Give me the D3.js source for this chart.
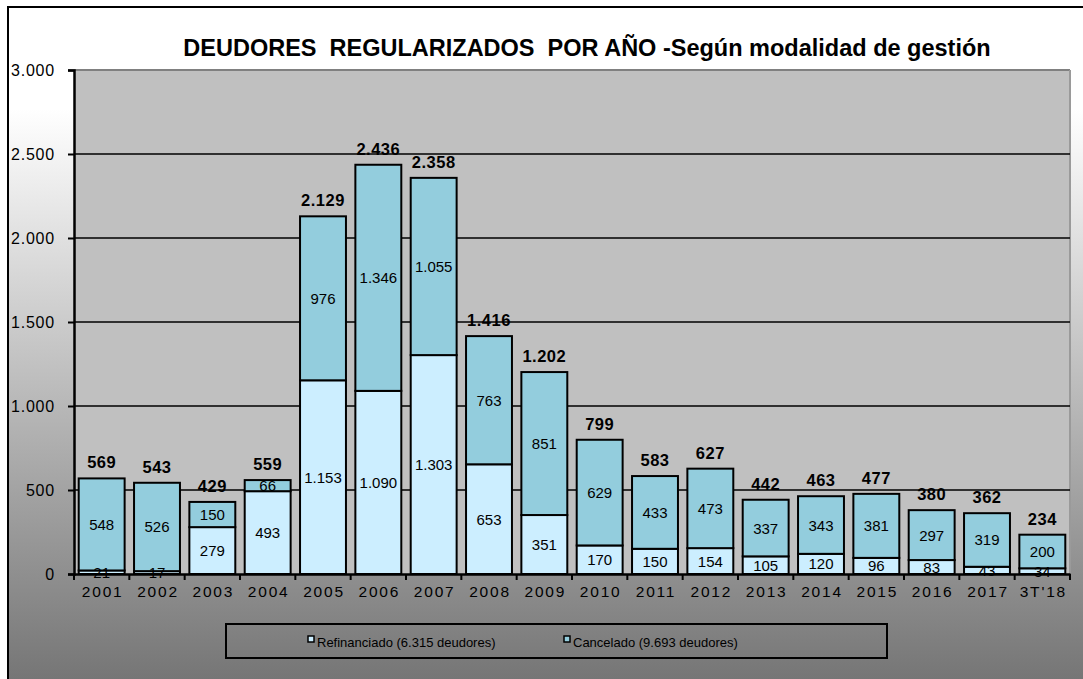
<!DOCTYPE html>
<html>
<head>
<meta charset="utf-8">
<script src="https://cdn.jsdelivr.net/npm/d3@7"></script>
<style>
  body { margin: 0; background: #fff; }
  text { font-family: "Liberation Sans", Arial, sans-serif; }
</style>
</head>
<body>
<svg id="chart" width="1083" height="679"></svg>
<script>
var years = ["2001", "2002", "2003", "2004", "2005", "2006", "2007", "2008", "2009", "2010", "2011", "2012", "2013", "2014", "2015", "2016", "2017", "3T'18"]
var refinanciado = [21, 17, 279, 493, 1153, 1090, 1303, 653, 351, 170, 150, 154, 105, 120, 96, 83, 43, 34]
var cancelado = [548, 526, 150, 66, 976, 1346, 1055, 763, 851, 629, 433, 473, 337, 343, 381, 297, 319, 200]
var yTicks = [0, 500, 1000, 1500, 2000, 2500, 3000]
var seriesNames = ["Refinanciado (6.315 deudores)", "Cancelado (9.693 deudores)"]
var colors = ["#CCEEFF", "#93CDDD"]

var dimensions = {
  width: 1083,
  height: 679,
  margin: { top: 70, bottom: 107, left: 74, right: 13 }
}

var locale = d3.formatLocale({ decimal: ",", thousands: ".", grouping: [3], currency: ["", "€"] })
var fmt = locale.format(",d")

var data = years.map((y, i) => ({ year: y, ref: refinanciado[i], can: cancelado[i], total: refinanciado[i] + cancelado[i] }))

var svg = d3.select("#chart")

// background gradient
var defs = svg.append("defs")
var grad = defs.append("linearGradient")
  .attr("id", "bg")
  .attr("x1", 0).attr("y1", 0).attr("x2", 0).attr("y2", 1)
grad.append("stop").attr("offset", "0%").attr("stop-color", "#ffffff")
grad.append("stop").attr("offset", "15%").attr("stop-color", "#ffffff")
grad.append("stop").attr("offset", "100%").attr("stop-color", "#747474")

svg.append("rect")
  .attr("x", 8).attr("y", 7)
  .attr("width", dimensions.width).attr("height", dimensions.height)
  .attr("fill", "url(#bg)")
  .attr("stroke", "#000")
  .attr("stroke-width", 2)

var xScale = d3.scaleBand()
  .domain(years)
  .range([dimensions.margin.left, dimensions.width - dimensions.margin.right])
  .paddingInner(0.17)
  .paddingOuter(0.085)

var yScale = d3.scaleLinear()
  .domain([0, 3000])
  .range([dimensions.height - dimensions.margin.bottom + 2, dimensions.margin.top])

var x0 = dimensions.margin.left
var x1 = dimensions.width - dimensions.margin.right

// plot area
svg.append("rect")
  .attr("x", x0).attr("y", yScale(3000))
  .attr("width", x1 - x0).attr("height", yScale(0) - yScale(3000))
  .attr("fill", "#C0C0C0")
svg.append("line")
  .attr("x1", x0).attr("x2", x1)
  .attr("y1", yScale(3000)).attr("y2", yScale(3000))
  .attr("stroke", "#808080").attr("stroke-width", 2)
svg.append("line")
  .attr("x1", x1).attr("x2", x1)
  .attr("y1", yScale(3000)).attr("y2", yScale(0))
  .attr("stroke", "#9a9a9a").attr("stroke-width", 2)

// gridlines
svg.append("g")
  .selectAll("line")
  .data(yTicks.filter(d => d > 0 && d < 3000))
  .enter().append("line")
  .attr("x1", x0).attr("x2", x1)
  .attr("y1", d => yScale(d)).attr("y2", d => yScale(d))
  .attr("stroke", "#000").attr("stroke-width", 1.5)

// bars
var bars = svg.append("g")
bars.selectAll("rect.ref")
  .data(data)
  .enter().append("rect")
  .attr("class", "ref")
  .attr("x", d => xScale(d.year))
  .attr("width", xScale.bandwidth())
  .attr("y", d => yScale(d.ref))
  .attr("height", d => yScale(0) - yScale(d.ref))
  .attr("fill", colors[0])
  .attr("stroke", "#000").attr("stroke-width", 2)
bars.selectAll("rect.can")
  .data(data)
  .enter().append("rect")
  .attr("class", "can")
  .attr("x", d => xScale(d.year))
  .attr("width", xScale.bandwidth())
  .attr("y", d => yScale(d.total))
  .attr("height", d => yScale(d.ref) - yScale(d.total))
  .attr("fill", colors[1])
  .attr("stroke", "#000").attr("stroke-width", 2)

// segment labels
var labels = svg.append("g")
  .style("font-size", "15px")
  .attr("text-anchor", "middle")
  .attr("fill", "#000")
labels.selectAll("text.ref")
  .data(data)
  .enter().append("text")
  .attr("x", d => xScale(d.year) + xScale.bandwidth() / 2)
  .attr("y", d => (yScale(0) + yScale(d.ref)) / 2 + 5.5)
  .text(d => fmt(d.ref))
labels.selectAll("text.can")
  .data(data)
  .enter().append("text")
  .attr("x", d => xScale(d.year) + xScale.bandwidth() / 2)
  .attr("y", d => (yScale(d.ref) + yScale(d.total)) / 2 + 5.5)
  .text(d => fmt(d.can))

// totals
svg.append("g")
  .selectAll("text")
  .data(data)
  .enter().append("text")
  .attr("x", d => xScale(d.year) + xScale.bandwidth() / 2)
  .attr("y", d => yScale(d.total) - 10)
  .attr("text-anchor", "middle")
  .style("font-size", "16.5px")
  .style("font-weight", "bold")
  .style("letter-spacing", "0.5px")
  .text(d => fmt(d.total))

// axes
var xAxisGen = d3.axisBottom(xScale).tickSize(0).tickPadding(12)
var xAxis = svg.append("g")
  .attr("transform", `translate(0,${yScale(0)})`)
  .call(xAxisGen)
xAxis.select(".domain").attr("stroke", "#000").attr("stroke-width", 2.5)
xAxis.selectAll("text")
  .style("font-size", "15.5px")
  .style("letter-spacing", "1.8px")
  .attr("dx", "1px")
  .attr("fill", "#000")
  .attr("font-family", null)

// category boundary ticks
svg.append("g")
  .selectAll("line")
  .data(years.concat(["end"]))
  .enter().append("line")
  .attr("x1", (d, i) => x0 + i * xScale.step())
  .attr("x2", (d, i) => x0 + i * xScale.step())
  .attr("y1", yScale(0)).attr("y2", yScale(0) + 6)
  .attr("stroke", "#000").attr("stroke-width", 2)

var yAxisGen = d3.axisLeft(yScale).tickValues(yTicks).tickFormat(fmt).tickSize(6).tickPadding(13)
var yAxis = svg.append("g")
  .attr("transform", `translate(${x0},0)`)
  .call(yAxisGen)
yAxis.select(".domain").attr("stroke", "#000").attr("stroke-width", 2.5)
yAxis.selectAll("line").attr("stroke", "#000").attr("stroke-width", 2)
yAxis.selectAll("text")
  .style("font-size", "16px")
  .style("letter-spacing", "0.8px")
  .attr("fill", "#000")
  .attr("font-family", null)

// title
svg.append("text")
  .attr("x", 587).attr("y", 56)
  .attr("text-anchor", "middle")
  .style("font-size", "23.5px")
  .style("font-weight", "bold")
  .style("white-space", "pre")
  .text("DEUDORES  REGULARIZADOS  POR AÑO -Según modalidad de gestión")

// legend
var legend = svg.append("g")
legend.append("rect")
  .attr("x", 226).attr("y", 624)
  .attr("width", 661).attr("height", 34)
  .attr("fill", "none")
  .attr("stroke", "#000").attr("stroke-width", 2)
var legendX = [308, 564]
var items = legend.selectAll("g.item")
  .data(seriesNames)
  .enter().append("g")
  .attr("transform", (d, i) => `translate(${legendX[i]},641)`)
items.append("rect")
  .attr("x", 0).attr("y", -5)
  .attr("width", 6).attr("height", 6)
  .attr("fill", (d, i) => colors[i])
  .attr("stroke", "#000").attr("stroke-width", 1.5)
items.append("text")
  .attr("x", 9).attr("y", 6)
  .style("font-size", "13px")
  .text(d => d)
</script>
</body>
</html>
